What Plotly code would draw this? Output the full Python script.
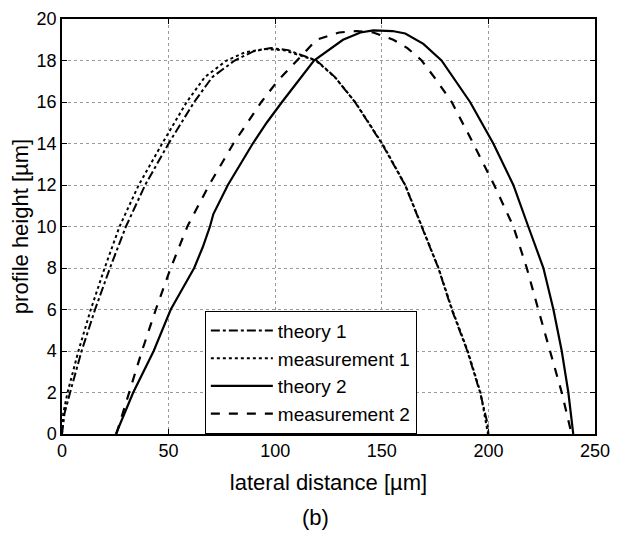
import plotly.graph_objects as go

# values (lateral distance in um, height in um)
theory1_x = [0, 1.2, 3.8, 9.2, 15.5, 22.5, 30, 39, 50, 62, 70.5, 81, 90, 98,
             106, 119.4, 128, 137.4, 150, 160.9, 168.7, 176.5, 182.8, 190.1,
             196.1, 199.6, 200]
theory1_y = [0, 1, 2, 4, 6, 8, 10, 12, 14, 16, 17.2, 18, 18.45, 18.6,
             18.5, 18, 17.2, 16, 14, 12, 10, 8, 6, 4, 2, 0.5, 0]

meas1_x = [0, 0.6, 2.6, 7.7, 13.5, 20, 27, 36, 47, 58.5, 67, 77.2, 86,
           95, 104, 119, 128, 137.5, 150.2, 161, 168.8, 176.6, 183, 190.3,
           196.3, 199.8]
meas1_y = [0, 1, 2, 4, 6, 8, 10, 12, 14, 16, 17.2, 18, 18.4,
           18.55, 18.5, 18, 17.2, 16, 14, 12, 10, 8, 6, 4, 2, 0]

theory2_x = [25.3, 33.4, 43, 51, 56.5, 62, 66, 69.4, 71, 77.8, 89.5, 96,
             103.2, 110.5, 118.2, 131.8, 140, 146, 155, 161, 169.5, 178, 191.4,
             202.3, 211.7, 218.7, 225.8, 230.5, 234.4, 237.5, 239.8]
theory2_y = [0, 2, 4, 6, 7, 8, 9, 10, 10.6, 12, 14, 15,
             16, 17, 18, 19, 19.35, 19.45, 19.42, 19.3, 18.8, 18, 16,
             14, 12, 10, 8, 6, 4, 2, 0]

meas2_x = [25.5, 31.4, 37.5, 44, 51, 58.8, 69, 80.4, 93.5, 101, 110, 119.4,
           130, 138, 146, 155.4, 162, 168.7, 176, 182.8, 192.9, 202.7, 211.7,
           218, 223.4, 228.9, 234.4, 239]
meas2_y = [0, 2, 4, 6, 8, 10, 12, 14, 16, 17, 18, 19,
           19.35, 19.42, 19.35, 19, 18.6, 18, 17, 16, 14, 12, 10,
           8, 6, 4, 2, 0]

FONT = "Liberation Sans, Arial, Helvetica, sans-serif"

fig = go.Figure()
fig.add_trace(go.Scatter(x=theory1_x, y=theory1_y, mode="lines", name="theory 1",
                         line=dict(color="black", width=2, dash="dashdot")))
fig.add_trace(go.Scatter(x=meas1_x, y=meas1_y, mode="lines", name="measurement 1",
                         line=dict(color="black", width=2, dash="dot")))
fig.add_trace(go.Scatter(x=theory2_x, y=theory2_y, mode="lines", name="theory 2",
                         line=dict(color="black", width=2.2, dash="solid")))
fig.add_trace(go.Scatter(x=meas2_x, y=meas2_y, mode="lines", name="measurement 2",
                         line=dict(color="black", width=2.2, dash="dash")))

axis_common = dict(
    showline=True, linecolor="black", linewidth=1.5, mirror="ticks",
    ticks="inside", ticklen=5, tickcolor="black", automargin=False,
    ticklabeloverflow="allow",
    showgrid=True, gridcolor="#9a9a9a", gridwidth=1, griddash="dot",
    zeroline=False, tickfont=dict(family=FONT, size=18, color="black"),
)

fig.update_xaxes(range=[0, 250], dtick=50, tick0=0,
                 title=dict(text="lateral distance [µm]", standoff=14,
                            font=dict(family=FONT, size=22, color="black")),
                 **axis_common)
fig.update_yaxes(range=[0, 20], dtick=2, tick0=0,
                 title=dict(text="profile height [µm]", standoff=15,
                            font=dict(family=FONT, size=22, color="black")),
                 **axis_common)

# page body adds 8px around the figure, so the figure is 8px smaller
fig.update_layout(
    width=624, height=525,
    margin=dict(l=54, r=37, t=11, b=99),
    paper_bgcolor="white", plot_bgcolor="white",
    font=dict(family=FONT, color="black"),
    legend=dict(x=0.268, y=0.149, xanchor="left", yanchor="middle",
                bgcolor="white", bordercolor="black", borderwidth=1,
                font=dict(family=FONT, size=19, color="black"),
                itemwidth=62, tracegroupgap=0),
    annotations=[dict(text="(b)", xref="paper", yref="paper", x=0.475, y=-0.2,
                      xanchor="center", yanchor="middle", showarrow=False,
                      font=dict(family=FONT, size=22, color="black"))],
)

fig.write_html("out.html")
